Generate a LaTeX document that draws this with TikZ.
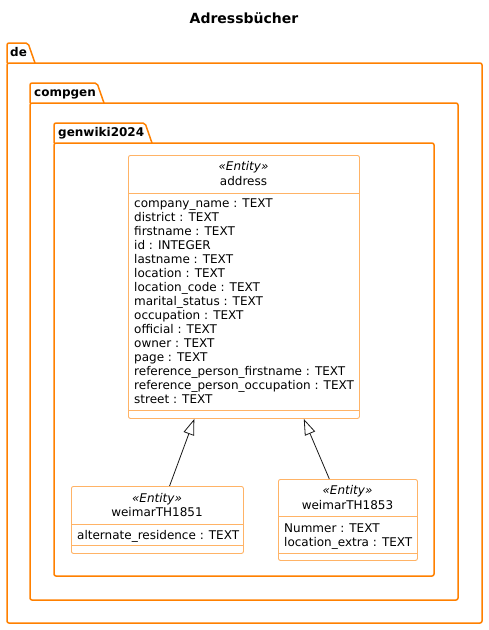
\documentclass[tikz,border=0pt]{standalone}
\usepackage{fontspec}
\setmainfont{DejaVu Sans}
\usetikzlibrary{arrows.meta,calc}
\definecolor{pkgc}{RGB}{255,128,0}
\definecolor{clsc}{RGB}{255,179,102}
\definecolor{linec}{RGB}{24,24,24}
\tikzset{
  pkgline/.style={draw=pkgc,line width=1.5pt,rounded corners=2pt},
  pkgname/.style={anchor=base west,inner sep=0pt,font=\fontsize{12}{14}\selectfont\bfseries},
  classbox/.style={draw=clsc,line width=0.9pt,rounded corners=2pt,inner sep=0pt,anchor=north west,fill=white},
  sepline/.style={draw=clsc,line width=0.9pt},
  stereo/.style={anchor=base,inner sep=0pt,font=\fontsize{12}{14}\selectfont\itshape},
  cname/.style={anchor=base,inner sep=0pt,font=\fontsize{12}{14}\selectfont},
  attr/.style={anchor=base west,inner sep=0pt,font=\fontsize{12}{14}\selectfont},
  inh/.style={draw=linec,line width=0.8pt,-{Triangle[open,length=16pt,width=11pt,fill=white]}}
}
\begin{document}
\begin{tikzpicture}[x=1pt,y=-1pt]
\useasboundingbox (0,0) rectangle (488,630);
\node[anchor=base,inner sep=0pt,font=\fontsize{14}{16}\selectfont\bfseries] (title) at (244,23) {Adressbücher};
% package de
\draw[pkgline] (7,63) -- (7,43) -- (28,43) -- (35,63);
\draw[pkgline] (7,63) rectangle (482,623);
\node[pkgname] (pde) at (10,56) {de};
% package compgen
\draw[pkgline] (30,103) -- (30,83) -- (97,83) -- (104,103);
\draw[pkgline] (30,103) rectangle (458,600);
\node[pkgname] (pcompgen) at (34,96) {compgen};
% package genwiki2024
\draw[pkgline] (54,143) -- (54,123) -- (145,123) -- (152,143);
\draw[pkgline] (54,143) rectangle (434,576);
\node[pkgname] (pgenwiki) at (58,136) {genwiki2024};
% class address
\node[classbox,minimum width=231pt,minimum height=263pt] (address) at (128,155) {};
\draw[sepline] (128,193) -- (359,193);
\draw[sepline] (128,410) -- (359,410);
\node[stereo] (aster) at (243.5,170) {«Entity»};
\node[cname] (aname) at (243.5,185) {address};
\foreach \t [count=\i from 0] in {company\_name : TEXT,district : TEXT,firstname : TEXT,id : INTEGER,lastname : TEXT,location : TEXT,location\_code : TEXT,marital\_status : TEXT,occupation : TEXT,official : TEXT,owner : TEXT,page : TEXT,reference\_person\_firstname : TEXT,reference\_person\_occupation : TEXT,street : TEXT}
  \node[attr] (aattr\i) at (134,207+14*\i) {\t};
% class weimarTH1851
\node[classbox,minimum width=172pt,minimum height=67pt] (w1851) at (71,486) {};
\draw[sepline] (71,524) -- (243,524);
\draw[sepline] (71,545) -- (243,545);
\node[stereo] (w1ster) at (157,502) {«Entity»};
\node[cname] (w1name) at (157,516) {weimarTH1851};
\node[attr] (w1attr) at (77,539) {alternate\_residence : TEXT};
% class weimarTH1853
\node[classbox,minimum width=139pt,minimum height=81pt] (w1853) at (278,479) {};
\draw[sepline] (278,516) -- (417,516);
\draw[sepline] (278,553) -- (417,553);
\node[stereo] (w3ster) at (347.5,494) {«Entity»};
\node[cname] (w3name) at (347.5,509) {weimarTH1853};
\node[attr] (w3attr1) at (284,532) {Nummer : TEXT};
\node[attr] (w3attr2) at (284,546) {location\_extra : TEXT};
% inheritance
\draw[inh] ($(w1851.north west)!0.57!(w1851.north east)$) -- ($(address.south west)!0.286!(address.south east)$);
\draw[inh] ($(w1853.north west)!0.367!(w1853.north east)$) -- ($(address.south west)!0.758!(address.south east)$);
\end{tikzpicture}
\end{document}
